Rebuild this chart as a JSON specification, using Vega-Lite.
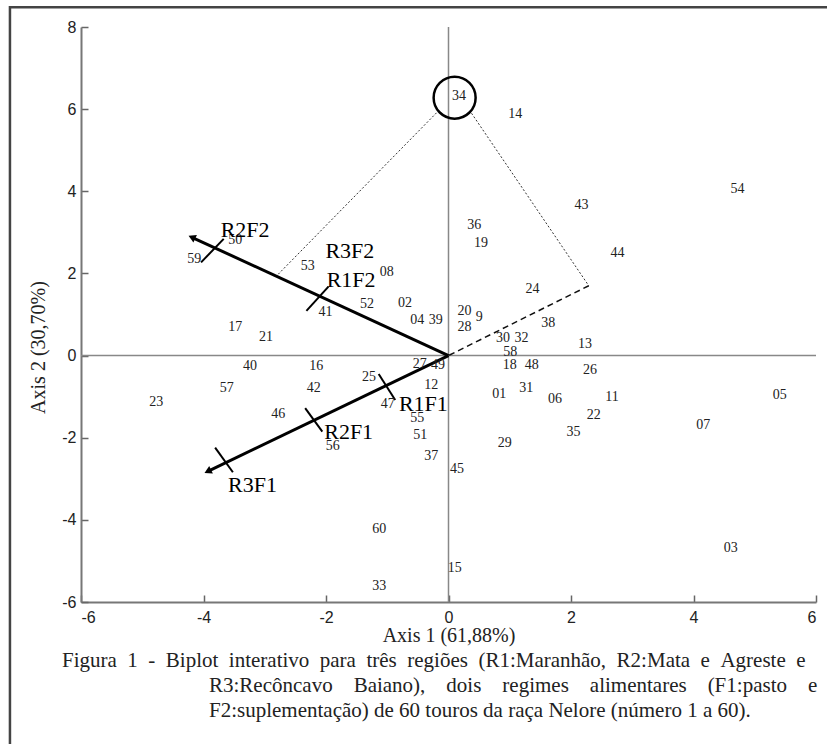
{
  "$schema": "https://vega.github.io/schema/vega-lite/v6.json",
  "width": 735,
  "height": 575,
  "autosize": "none",
  "padding": {"left": 81, "top": 27, "right": 11, "bottom": 142},
  "background": "white",
  "config": {"view": {"stroke": null}},
  "title": {
    "text": [
      "Figura \u00a01 \u00a0- \u00a0Biplot \u00a0interativo \u00a0para \u00a0três \u00a0regiões \u00a0(R1:Maranhão, \u00a0R2:Mata \u00a0e \u00a0Agreste \u00a0e",
      "\u200b\u00a0\u00a0\u00a0\u00a0\u00a0\u00a0\u00a0\u00a0\u00a0\u00a0\u00a0\u00a0\u00a0\u00a0\u00a0\u00a0\u00a0\u00a0\u00a0\u00a0\u00a0\u00a0\u00a0\u00a0\u00a0\u00a0\u00a0\u00a0R3:Recôncavo \u00a0\u00a0\u00a0Baiano), \u00a0\u00a0\u00a0dois \u00a0\u00a0\u00a0regimes \u00a0\u00a0\u00a0alimentares \u00a0\u00a0\u00a0(F1:pasto \u00a0\u00a0\u00a0e",
      "\u200b\u00a0\u00a0\u00a0\u00a0\u00a0\u00a0\u00a0\u00a0\u00a0\u00a0\u00a0\u00a0\u00a0\u00a0\u00a0\u00a0\u00a0\u00a0\u00a0\u00a0\u00a0\u00a0\u00a0\u00a0\u00a0\u00a0\u00a0\u00a0F2:suplementação) de 60 touros da raça Nelore (número 1 a 60)."
    ],
    "orient": "bottom",
    "anchor": "start",
    "frame": "group",
    "align": "left",
    "dx": -19,
    "offset": -97,
    "font": "Liberation Serif",
    "fontSize": 21,
    "fontWeight": "normal",
    "lineHeight": 25,
    "color": "#222"
  },
  "datasets": {
    "refs": [
      {"x": -6, "x2": 6, "y": 0, "y2": 0},
      {"x": 0, "x2": 0, "y": -6, "y2": 8}
    ],
    "dotted": [
      {"x": -0.196, "y": 5.91, "x2": -2.80, "y2": 1.95},
      {"x": 0.376, "y": 5.90, "x2": 2.29, "y2": 1.70}
    ],
    "dashed": [
      {"x": 2.29, "y": 1.70, "x2": 0, "y2": 0}
    ],
    "arrows": [
      {"name": "F2", "x": 0, "y": 0, "x2": -4.19, "y2": 2.88},
      {"name": "F1", "x": 0, "y": 0, "x2": -3.93, "y2": -2.82}
    ],
    "ticks": [
      {"name": "R2F2", "x": -4.04, "y": 2.27, "x2": -3.67, "y2": 2.84},
      {"name": "R1F2", "x": -2.32, "y": 1.09, "x2": -1.96, "y2": 1.68},
      {"name": "R3F1", "x": -3.81, "y": -2.24, "x2": -3.52, "y2": -2.84},
      {"name": "R2F1", "x": -2.34, "y": -1.28, "x2": -2.06, "y2": -1.85},
      {"name": "R1F1", "x": -1.14, "y": -0.45, "x2": -0.87, "y2": -1.08}
    ],
    "highlight": [
      {"id": "34", "x": 0.10, "y": 6.28}
    ],
    "frame": [
      {"x": -7.16, "x2": 6.6, "y": 8.48, "y2": -9.5}
    ],
    "envs": [
      {"name": "R2F2", "x": -3.32, "y": 3.05},
      {"name": "R3F2", "x": -1.61, "y": 2.55},
      {"name": "R1F2", "x": -1.59, "y": 1.84},
      {"name": "R3F1", "x": -3.20, "y": -3.16},
      {"name": "R2F1", "x": -1.63, "y": -1.86},
      {"name": "R1F1", "x": -0.41, "y": -1.18}
    ],
    "pts": [
      {"id": "01", "x": 0.83, "y": -0.94},
      {"id": "02", "x": -0.71, "y": 1.27},
      {"id": "03", "x": 4.61, "y": -4.69},
      {"id": "04", "x": -0.51, "y": 0.87},
      {"id": "05", "x": 5.41, "y": -0.96},
      {"id": "06", "x": 1.74, "y": -1.05},
      {"id": "07", "x": 4.16, "y": -1.70},
      {"id": "08", "x": -1.01, "y": 2.03},
      {"id": "9", "x": 0.50, "y": 0.95},
      {"id": "11", "x": 2.67, "y": -1.00},
      {"id": "12", "x": -0.28, "y": -0.71},
      {"id": "13", "x": 2.23, "y": 0.28},
      {"id": "14", "x": 1.09, "y": 5.87},
      {"id": "15", "x": 0.10, "y": -5.16},
      {"id": "16", "x": -2.16, "y": -0.25},
      {"id": "17", "x": -3.48, "y": 0.69},
      {"id": "18", "x": 1.00, "y": -0.23},
      {"id": "19", "x": 0.53, "y": 2.74},
      {"id": "20", "x": 0.26, "y": 1.09},
      {"id": "21", "x": -2.98, "y": 0.46},
      {"id": "22", "x": 2.37, "y": -1.44},
      {"id": "23", "x": -4.77, "y": -1.12},
      {"id": "24", "x": 1.37, "y": 1.61},
      {"id": "25", "x": -1.30, "y": -0.53},
      {"id": "26", "x": 2.31, "y": -0.35},
      {"id": "27", "x": -0.47, "y": -0.21},
      {"id": "28", "x": 0.26, "y": 0.69},
      {"id": "29", "x": 0.92, "y": -2.12},
      {"id": "30", "x": 0.89, "y": 0.42},
      {"id": "31", "x": 1.27, "y": -0.78},
      {"id": "32", "x": 1.19, "y": 0.42},
      {"id": "33", "x": -1.13, "y": -5.60},
      {"id": "34", "x": 0.17, "y": 6.33},
      {"id": "35", "x": 2.04, "y": -1.86},
      {"id": "36", "x": 0.42, "y": 3.18},
      {"id": "37", "x": -0.28, "y": -2.44},
      {"id": "38", "x": 1.63, "y": 0.79},
      {"id": "39", "x": -0.21, "y": 0.87},
      {"id": "40", "x": -3.24, "y": -0.25},
      {"id": "41", "x": -2.01, "y": 1.05},
      {"id": "42", "x": -2.20, "y": -0.79},
      {"id": "43", "x": 2.17, "y": 3.66},
      {"id": "44", "x": 2.76, "y": 2.49},
      {"id": "45", "x": 0.14, "y": -2.76},
      {"id": "46", "x": -2.78, "y": -1.43},
      {"id": "47", "x": -0.99, "y": -1.18},
      {"id": "48", "x": 1.36, "y": -0.23},
      {"id": "49", "x": -0.17, "y": -0.24},
      {"id": "50", "x": -3.48, "y": 2.81},
      {"id": "51", "x": -0.46, "y": -1.93},
      {"id": "52", "x": -1.33, "y": 1.25},
      {"id": "53", "x": -2.30, "y": 2.19},
      {"id": "54", "x": 4.72, "y": 4.05},
      {"id": "55", "x": -0.51, "y": -1.52},
      {"id": "56", "x": -1.89, "y": -2.19},
      {"id": "57", "x": -3.62, "y": -0.79},
      {"id": "58", "x": 1.01, "y": 0.08},
      {"id": "59", "x": -4.15, "y": 2.35},
      {"id": "60", "x": -1.13, "y": -4.22}
    ]
  },
  "encoding": {
    "x": {
      "field": "x",
      "type": "quantitative",
      "scale": {"domain": [-6, 6], "nice": false, "zero": false},
      "axis": {
        "orient": "bottom",
        "values": [-6, -4, -2, 0, 2, 4, 6],
        "labelExpr": "replace(datum.label, '\u2212', '-')",
        "grid": false,
        "domainColor": "#777",
        "domainWidth": 2,
        "tickColor": "#666",
        "tickWidth": 1.5,
        "tickSize": -7,
        "labelFont": "Liberation Sans",
        "labelFontSize": 16,
        "labelColor": "#222",
        "labelPadding": 14,
        "title": "Axis 1 (61,88%)",
        "titleFont": "Liberation Serif",
        "titleFontSize": 20,
        "titleFontWeight": "normal",
        "titleColor": "#222",
        "titlePadding": 0
      }
    },
    "y": {
      "field": "y",
      "type": "quantitative",
      "scale": {"domain": [-6, 8], "nice": false, "zero": false},
      "axis": {
        "orient": "left",
        "values": [-6, -4, -2, 0, 2, 4, 6, 8],
        "labelExpr": "replace(datum.label, '\u2212', '-')",
        "grid": false,
        "domainColor": "#777",
        "domainWidth": 2,
        "tickColor": "#666",
        "tickWidth": 1.5,
        "tickSize": -7,
        "labelFont": "Liberation Sans",
        "labelFontSize": 16,
        "labelColor": "#222",
        "labelPadding": 12,
        "title": "Axis 2 (30,70%)",
        "titleFont": "Liberation Serif",
        "titleFontSize": 20,
        "titleFontWeight": "normal",
        "titleColor": "#222",
        "titleX": -43,
        "titleY": 320,
        "titleBaseline": "middle",
        "titleAngle": 270
      }
    }
  },
  "layer": [
    {
      "data": {"name": "refs"},
      "mark": {"type": "rule", "color": "#888", "strokeWidth": 1.5},
      "encoding": {"x2": {"field": "x2"}, "y2": {"field": "y2"}}
    },
    {
      "data": {"name": "dotted"},
      "mark": {"type": "rule", "color": "#333", "strokeWidth": 1, "strokeDash": [2, 2]},
      "encoding": {"x2": {"field": "x2"}, "y2": {"field": "y2"}}
    },
    {
      "data": {"name": "dashed"},
      "mark": {"type": "rule", "color": "#111", "strokeWidth": 1.5, "strokeDash": [6, 4]},
      "encoding": {"x2": {"field": "x2"}, "y2": {"field": "y2"}}
    },
    {
      "data": {"name": "arrows"},
      "mark": {"type": "rule", "color": "#000", "strokeWidth": 3},
      "encoding": {"x2": {"field": "x2"}, "y2": {"field": "y2"}}
    },
    {
      "data": {"name": "ticks"},
      "mark": {"type": "rule", "color": "#000", "strokeWidth": 2},
      "encoding": {"x2": {"field": "x2"}, "y2": {"field": "y2"}}
    },
    {
      "data": {"name": "arrows"},
      "transform": [{"filter": "datum.name === 'F2'"}],
      "mark": {"type": "point", "shape": "triangle-up", "filled": true, "color": "#000", "size": 70, "angle": 295, "opacity": 1},
      "encoding": {"x": {"field": "x2", "type": "quantitative"}, "y": {"field": "y2", "type": "quantitative"}}
    },
    {
      "data": {"name": "arrows"},
      "transform": [{"filter": "datum.name === 'F1'"}],
      "mark": {"type": "point", "shape": "triangle-up", "filled": true, "color": "#000", "size": 70, "angle": 244, "opacity": 1},
      "encoding": {"x": {"field": "x2", "type": "quantitative"}, "y": {"field": "y2", "type": "quantitative"}}
    },
    {
      "data": {"name": "highlight"},
      "mark": {"type": "point", "shape": "circle", "filled": false, "stroke": "#000", "strokeWidth": 2.5, "size": 1764, "opacity": 1},
      "encoding": {}
    },
    {
      "data": {"name": "pts"},
      "mark": {"type": "text", "font": "Liberation Serif", "fontSize": 14, "color": "#222", "align": "center", "baseline": "middle"},
      "encoding": {"text": {"field": "id"}}
    },
    {
      "data": {"name": "envs"},
      "mark": {"type": "text", "font": "Liberation Serif", "fontSize": 22, "color": "#000", "align": "center", "baseline": "middle"},
      "encoding": {"text": {"field": "name"}}
    },
    {
      "data": {"name": "frame"},
      "mark": {"type": "rect", "fill": null, "stroke": "#444", "strokeWidth": 2.5, "clip": false},
      "encoding": {"x2": {"field": "x2"}, "y2": {"field": "y2"}}
    }
  ]
}
